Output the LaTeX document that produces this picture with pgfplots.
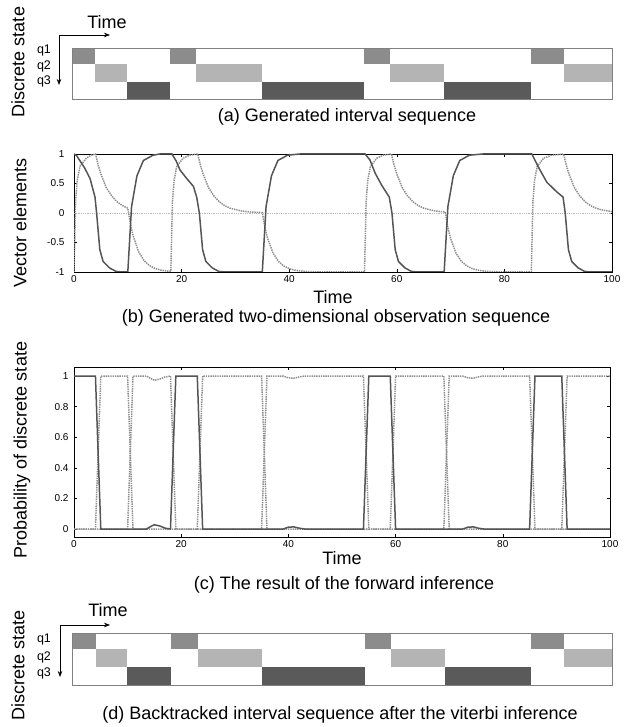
\documentclass[border=0pt]{standalone}
\usepackage{fontspec}
\setmainfont{Liberation Sans}
\usepackage{pgfplots}
\pgfplotsset{compat=1.18}
\usetikzlibrary{arrows.meta}

\definecolor{qone}{HTML}{8C8C8C}
\definecolor{qtwo}{HTML}{B4B4B4}
\definecolor{qthree}{HTML}{5A5A5A}
\definecolor{solidc}{HTML}{555555}
\definecolor{dotc}{HTML}{8E8E8E}

\newcommand\lab{\fontsize{18}{21}\selectfont}
\newcommand\qlab{\fontsize{12.5}{14}\selectfont}

\pgfplotsset{
 seq/.style={scale only axis, anchor=south west, width=540pt,
  xmin=0, xmax=100, ymin=0, ymax=3, xtick=\empty, ytick=\empty,
  axis on top, axis line style={draw=gray, line width=0.8pt}},
 sig/.style={scale only axis, anchor=south west, xmin=0, xmax=100,
  xtick={0,20,...,100}, tick align=inside, major tick length=3pt,
  tick style={black, line width=0.5pt},
  ticklabel style={font=\fontsize{10}{11}\selectfont},
  /pgf/number format/assume math mode=true,
  axis line style={line width=0.8pt}},
 q1f/.style={draw=none, fill=qone},
 q2f/.style={draw=none, fill=qtwo},
 q3f/.style={draw=none, fill=qthree},
 sl/.style={solidc, line width=1.5pt},
 dl/.style={dotc, line width=1.5pt, dash pattern=on 1.4pt off 0.9pt},
}

\begin{document}
\begin{tikzpicture}[x=1pt, y=1pt]
\path[use as bounding box] (0,0) rectangle (631,727);

% (a) generated interval sequence
\begin{axis}[seq, at={(72pt,628pt)}, height=51pt]
 \addplot[q1f] coordinates {(0,2.06) (4.26,2.06) (4.26,3) (0,3)};
 \addplot[q1f] coordinates {(18.15,2.06) (22.96,2.06) (22.96,3) (18.15,3)};
 \addplot[q1f] coordinates {(54.07,2.06) (58.89,2.06) (58.89,3) (54.07,3)};
 \addplot[q1f] coordinates {(85.0,2.06) (91.11,2.06) (91.11,3) (85.0,3)};
 \addplot[q2f] coordinates {(4.26,1) (10.19,1) (10.19,2.06) (4.26,2.06)};
 \addplot[q2f] coordinates {(22.96,1) (35.19,1) (35.19,2.06) (22.96,2.06)};
 \addplot[q2f] coordinates {(58.89,1) (68.89,1) (68.89,2.06) (58.89,2.06)};
 \addplot[q2f] coordinates {(91.11,1) (100,1) (100,2.06) (91.11,2.06)};
 \addplot[q3f] coordinates {(10.19,0) (18.15,0) (18.15,1) (10.19,1)};
 \addplot[q3f] coordinates {(35.19,0) (54.07,0) (54.07,1) (35.19,1)};
 \addplot[q3f] coordinates {(68.89,0) (85.0,0) (85.0,1) (68.89,1)};
\end{axis}
\node[rotate=90, font=\lab] at (18,665) {Discrete state};
\node[font=\lab] at (107,705) {Time};
\draw[-{Stealth[length=6pt,width=4.5pt]}, line width=0.6pt] (59,692) -- (110,692);
\draw[-{Stealth[length=6pt,width=4.5pt]}, line width=0.6pt] (59,692) -- (59,642);
\node[font=\qlab] at (44,676) {q1};
\node[font=\qlab] at (44,661) {q2};
\node[font=\qlab] at (44,646) {q3};
\node[font=\lab] at (347,610) {(a) Generated interval sequence};

% (b) generated observation sequence
\begin{axis}[sig, at={(74pt,455pt)}, width=538pt, height=118pt,
  ymin=-1, ymax=1, ytick={-1,-0.5,0,0.5,1},
  yticklabel style={xshift=-6pt}]
 \addplot[gray!55, line width=0.8pt, densely dotted] coordinates {(0,0) (100,0)};
 \addplot[dl] coordinates {
  (0,-1) (0.3,0.2) (0.6,0.55) (1.1,0.79) (2.3,0.93) (3.2,0.98) (4,1)
  (4.5,0.81) (5,0.66) (6,0.43) (7,0.29) (8,0.19) (9,0.125) (10,0.08)
  (10.5,-0.19) (11,-0.39) (12,-0.655) (13,-0.806) (14,-0.89) (15,-0.938) (16,-0.965) (17,-0.98) (18,-0.99)
  (18.3,0.2) (18.6,0.55) (19.1,0.79) (20.3,0.93) (21.5,0.98) (23,1)
  (23.5,0.81) (24,0.66) (25,0.43) (26,0.29) (27,0.19) (28,0.125) (29,0.082) (31,0.036) (33,0.015) (35,0.007)
  (35.5,-0.25) (36,-0.435) (37,-0.68) (38,-0.82) (39,-0.898) (40,-0.943) (41,-0.968) (42,-0.982) (43,-0.99) (45,-0.997) (54,-1)
  (54.3,0.2) (54.6,0.55) (55.1,0.79) (56.3,0.93) (57.5,0.98) (59,1)
  (59.5,0.81) (60,0.66) (61,0.43) (62,0.29) (63,0.19) (64,0.125) (65,0.082) (67,0.036) (69,0.015)
  (69.5,-0.25) (70,-0.43) (71,-0.68) (72,-0.82) (73,-0.897) (74,-0.942) (75,-0.967) (76,-0.982) (77,-0.99) (79,-0.997) (85,-1)
  (85.3,0.2) (85.6,0.55) (86.1,0.79) (87.3,0.93) (88.8,0.98) (91,1)
  (91.5,0.81) (92,0.66) (93,0.43) (94,0.29) (95,0.19) (96,0.125) (97,0.082) (98,0.054) (100,0.024)};
 \addplot[sl] coordinates {
  (0,1) (0.5,0.97) (1,0.9) (2,0.76) (3,0.58) (3.9,0.27) (4.2,0) (4.8,-0.62) (5.4,-0.82) (6.6,-0.93) (7.8,-0.99) (9,-1) (10,-1)
  (10.7,0.11) (11.7,0.63) (12.9,0.89) (14.7,0.98) (16,1) (18.2,1)
  (19,0.88) (19.7,0.73) (20.9,0.59) (22.2,0.45) (22.8,0.27) (23.3,0) (23.9,-0.62) (24.5,-0.82) (25.7,-0.93) (26.9,-0.99) (28,-1) (35,-1)
  (35.7,0.11) (36.7,0.63) (37.9,0.89) (39.7,0.98) (42,1) (54.1,1)
  (55,0.9) (56,0.67) (57.2,0.47) (58.6,0.27) (59.1,0) (59.7,-0.62) (60.3,-0.82) (61.5,-0.93) (62.7,-0.99) (64,-1) (68.8,-1)
  (69.5,0.11) (70.5,0.63) (71.7,0.89) (73.5,0.98) (76,1) (85.1,1)
  (86.6,0.73) (87.9,0.52) (89.7,0.36) (90.9,0.27) (91.3,0) (91.9,-0.62) (92.5,-0.82) (93.7,-0.93) (94.9,-0.99) (96,-1) (100,-1)};
\end{axis}
\node[rotate=90, font=\lab] at (20,504) {Vector elements};
\node[font=\lab] at (333,430) {Time};
\node[font=\lab] at (336,409) {(b) Generated two-dimensional observation sequence};

% (c) forward inference
\begin{axis}[sig, at={(74pt,190pt)}, width=536pt, height=170pt,
  ymin=-0.052, ymax=1.059, ytick={0,0.2,...,1},
  yticklabel style={xshift=-2pt}]
 \addplot[dl] coordinates {(0,0) (4,0) (5,1) (10,1) (11,0) (23,0) (24,1) (35,1) (36,0)
  (59,0) (60,1) (69,1) (70,0) (91,0) (92,1) (100,1)};
 \addplot[dl] coordinates {(0,0) (10,0) (11,1) (13.5,1) (14.5,0.98) (15,0.972) (16,0.98) (17,0.994) (18,1)
  (19,0) (35,0) (36,1) (39,1) (40,0.988) (41,0.986) (42,0.994) (43,1) (54,1) (55,0)
  (69,0) (70,1) (72.5,1) (73.5,0.988) (74.5,0.986) (75.5,0.995) (76.5,1) (85,1) (86,0) (100,0)};
 \addplot[sl] coordinates {(0,1) (4,1) (5,0) (13.5,0) (14.5,0.02) (15,0.028) (16,0.02) (17,0.006) (18,0)
  (19,1) (23,1) (24,0) (39,0) (40,0.012) (41,0.014) (42,0.006) (43,0) (54,0)
  (55,1) (59,1) (60,0) (72.5,0) (73.5,0.012) (74.5,0.014) (75.5,0.005) (76.5,0) (85,0)
  (86,1) (91,1) (92,0) (100,0)};
\end{axis}
\node[rotate=90, font=\lab] at (22,277) {Probability of discrete state};
\node[font=\lab] at (342,169) {Time};
\node[font=\lab] at (344,142) {(c) The result of the forward inference};

% (d) backtracked interval sequence
\begin{axis}[seq, at={(72pt,42pt)}, height=52pt]
 \addplot[q1f] coordinates {(0,2.08) (4.44,2.08) (4.44,3) (0,3)};
 \addplot[q1f] coordinates {(18.33,2.08) (23.33,2.08) (23.33,3) (18.33,3)};
 \addplot[q1f] coordinates {(54.26,2.08) (59.07,2.08) (59.07,3) (54.26,3)};
 \addplot[q1f] coordinates {(85.0,2.08) (91.11,2.08) (91.11,3) (85.0,3)};
 \addplot[q2f] coordinates {(4.44,1.04) (10.19,1.04) (10.19,2.08) (4.44,2.08)};
 \addplot[q2f] coordinates {(23.33,1.04) (35.19,1.04) (35.19,2.08) (23.33,2.08)};
 \addplot[q2f] coordinates {(59.07,1.04) (69.07,1.04) (69.07,2.08) (59.07,2.08)};
 \addplot[q2f] coordinates {(91.11,1.04) (100,1.04) (100,2.08) (91.11,2.08)};
 \addplot[q3f] coordinates {(10.19,0) (18.33,0) (18.33,1.04) (10.19,1.04)};
 \addplot[q3f] coordinates {(35.19,0) (54.26,0) (54.26,1.04) (35.19,1.04)};
 \addplot[q3f] coordinates {(69.07,0) (85.0,0) (85.0,1.04) (69.07,1.04)};
\end{axis}
\node[rotate=90, font=\lab] at (18,62) {Discrete state};
\node[font=\lab] at (108,117) {Time};
\draw[-{Stealth[length=6pt,width=4.5pt]}, line width=0.6pt] (60,102) -- (110,102);
\draw[-{Stealth[length=6pt,width=4.5pt]}, line width=0.6pt] (60,102) -- (60,50);
\node[font=\qlab] at (44,88) {q1};
\node[font=\qlab] at (44,70) {q2};
\node[font=\qlab] at (44,54) {q3};
\node[font=\lab] at (340,12) {(d) Backtracked interval sequence after the viterbi inference};
\end{tikzpicture}
\end{document}
